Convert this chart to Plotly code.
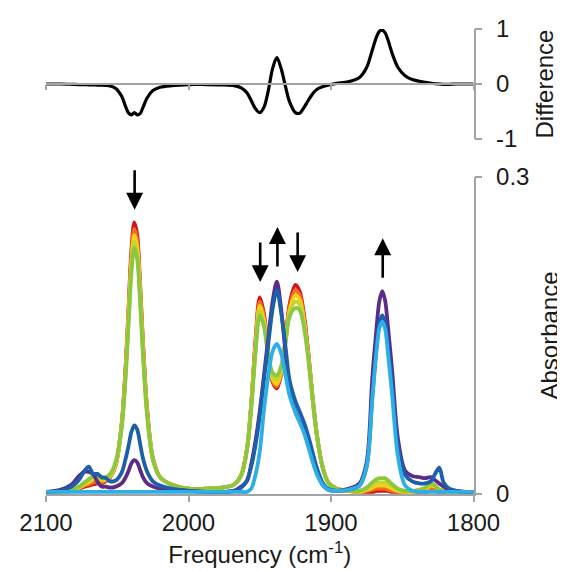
import plotly.graph_objects as go

# ---------------- data ----------------
freq = [2100, 2090, 2082, 2077, 2073, 2070, 2067, 2064, 2061, 2058,
        2055, 2051, 2047, 2044, 2042, 2040, 2038, 2036, 2034, 2032,
        2029, 2025, 2020, 2012, 2000, 1988, 1976, 1968, 1963, 1959,
        1956, 1953, 1950, 1947, 1944, 1941, 1938, 1935, 1932, 1929,
        1925, 1922, 1919, 1916, 1913, 1910, 1906, 1902, 1896, 1888,
        1880, 1875, 1871, 1868, 1866, 1864, 1862, 1860, 1857, 1853,
        1848, 1843, 1838, 1834, 1830, 1827, 1824, 1821, 1817, 1812,
        1806, 1800]

red = [0.002, 0.002, 0.003, 0.005, 0.007, 0.008, 0.009, 0.010, 0.010, 0.012,
       0.016, 0.028, 0.065, 0.124, 0.178, 0.232, 0.257, 0.245, 0.200, 0.145,
       0.080, 0.034, 0.016, 0.009, 0.005, 0.005, 0.006, 0.009, 0.018, 0.042,
       0.085, 0.145, 0.186, 0.170, 0.133, 0.106, 0.100, 0.113, 0.145, 0.180,
       0.198, 0.192, 0.170, 0.135, 0.093, 0.057, 0.026, 0.011, 0.005, 0.003,
       0.002, 0.002, 0.002, 0.003, 0.003, 0.003, 0.003, 0.003, 0.002, 0.002,
       0.002, 0.002, 0.002, 0.002, 0.003, 0.003, 0.002, 0.002, 0.002, 0.002,
       0.002, 0.002]

orange = [0.002, 0.002, 0.003, 0.005, 0.008, 0.009, 0.011, 0.012, 0.011, 0.013,
          0.016, 0.028, 0.064, 0.121, 0.174, 0.227, 0.251, 0.239, 0.196, 0.142,
          0.078, 0.033, 0.016, 0.009, 0.005, 0.005, 0.006, 0.009, 0.018, 0.042,
          0.084, 0.142, 0.182, 0.167, 0.132, 0.107, 0.102, 0.114, 0.144, 0.177,
          0.193, 0.188, 0.167, 0.133, 0.092, 0.057, 0.026, 0.011, 0.005, 0.003,
          0.002, 0.003, 0.004, 0.005, 0.005, 0.005, 0.005, 0.004, 0.003, 0.002,
          0.002, 0.002, 0.002, 0.003, 0.005, 0.004, 0.003, 0.002, 0.002, 0.002,
          0.002, 0.002]

yellow = [0.002, 0.002, 0.003, 0.006, 0.009, 0.011, 0.014, 0.016, 0.013, 0.014,
          0.017, 0.029, 0.063, 0.118, 0.170, 0.221, 0.245, 0.234, 0.192, 0.139,
          0.076, 0.033, 0.016, 0.009, 0.005, 0.005, 0.006, 0.009, 0.018, 0.042,
          0.083, 0.139, 0.178, 0.164, 0.131, 0.109, 0.104, 0.116, 0.143, 0.174,
          0.188, 0.184, 0.164, 0.131, 0.091, 0.056, 0.026, 0.011, 0.005, 0.003,
          0.002, 0.004, 0.006, 0.008, 0.008, 0.008, 0.008, 0.007, 0.005, 0.003,
          0.002, 0.002, 0.003, 0.004, 0.008, 0.007, 0.004, 0.003, 0.002, 0.002,
          0.002, 0.002]

yellowgreen = [0.002, 0.002, 0.003, 0.006, 0.010, 0.013, 0.016, 0.018, 0.014, 0.015,
               0.018, 0.030, 0.062, 0.116, 0.166, 0.216, 0.239, 0.228, 0.187, 0.136,
               0.075, 0.033, 0.016, 0.009, 0.005, 0.005, 0.006, 0.009, 0.018, 0.042,
               0.082, 0.136, 0.174, 0.161, 0.131, 0.112, 0.108, 0.118, 0.143, 0.171,
               0.182, 0.179, 0.161, 0.130, 0.091, 0.056, 0.026, 0.011, 0.005, 0.003,
               0.003, 0.005, 0.008, 0.011, 0.011, 0.011, 0.011, 0.010, 0.007, 0.004,
               0.003, 0.002, 0.003, 0.005, 0.009, 0.008, 0.004, 0.003, 0.002, 0.002,
               0.002, 0.002]

green = [0.002, 0.002, 0.004, 0.007, 0.011, 0.014, 0.017, 0.019, 0.015, 0.016,
         0.019, 0.031, 0.062, 0.113, 0.162, 0.211, 0.233, 0.222, 0.183, 0.133,
         0.074, 0.033, 0.016, 0.009, 0.005, 0.005, 0.006, 0.009, 0.018, 0.042,
         0.081, 0.133, 0.169, 0.158, 0.131, 0.115, 0.112, 0.121, 0.143, 0.168,
         0.176, 0.174, 0.158, 0.129, 0.091, 0.056, 0.026, 0.011, 0.005, 0.003,
         0.003, 0.006, 0.011, 0.014, 0.015, 0.015, 0.015, 0.013, 0.009, 0.005,
         0.003, 0.003, 0.004, 0.006, 0.010, 0.008, 0.004, 0.003, 0.002, 0.002,
         0.002, 0.002]

purple = [0.002, 0.004, 0.009, 0.017, 0.021, 0.021, 0.019, 0.012, 0.007, 0.007,
          0.006, 0.007, 0.010, 0.016, 0.022, 0.029, 0.032, 0.030, 0.023, 0.016,
          0.010, 0.007, 0.005, 0.004, 0.003, 0.002, 0.002, 0.003, 0.007, 0.012,
          0.028, 0.050, 0.078, 0.113, 0.148, 0.182, 0.201, 0.175, 0.135, 0.097,
          0.078, 0.069, 0.060, 0.047, 0.033, 0.020, 0.009, 0.004, 0.003, 0.005,
          0.010, 0.030, 0.110, 0.158, 0.183, 0.192, 0.183, 0.158, 0.115, 0.052,
          0.022, 0.017, 0.016, 0.015, 0.016, 0.013, 0.010, 0.007, 0.004, 0.003,
          0.002, 0.002]

darkblue = [0.002, 0.003, 0.007, 0.013, 0.022, 0.026, 0.019, 0.019, 0.016, 0.015,
            0.012, 0.013, 0.020, 0.034, 0.046, 0.059, 0.065, 0.061, 0.048, 0.034,
            0.021, 0.012, 0.008, 0.005, 0.003, 0.002, 0.002, 0.003, 0.006, 0.013,
            0.026, 0.046, 0.074, 0.108, 0.142, 0.175, 0.193, 0.172, 0.140, 0.107,
            0.088, 0.078, 0.068, 0.055, 0.040, 0.025, 0.011, 0.005, 0.003, 0.004,
            0.008, 0.026, 0.092, 0.140, 0.162, 0.169, 0.162, 0.140, 0.102, 0.045,
            0.018, 0.012, 0.010, 0.010, 0.012, 0.019, 0.025, 0.011, 0.005, 0.003,
            0.002, 0.002]

lightblue = [0.002, 0.002, 0.002, 0.002, 0.002, 0.002, 0.002, 0.002, 0.002, 0.002,
             0.002, 0.002, 0.002, 0.002, 0.002, 0.002, 0.002, 0.002, 0.002, 0.002,
             0.002, 0.002, 0.002, 0.002, 0.002, 0.002, 0.002, 0.002, 0.002, 0.002,
             0.005, 0.018, 0.040, 0.080, 0.112, 0.135, 0.142, 0.133, 0.113, 0.093,
             0.077, 0.068, 0.058, 0.045, 0.031, 0.019, 0.009, 0.004, 0.003, 0.004,
             0.008, 0.026, 0.090, 0.136, 0.157, 0.163, 0.156, 0.133, 0.092, 0.035,
             0.008, 0.003, 0.002, 0.002, 0.002, 0.002, 0.002, 0.002, 0.002, 0.002,
             0.002, 0.002]

difference = [0.00, 0.00, -0.005, -0.01, -0.01, -0.015, -0.015, -0.02, -0.02, -0.025,
              -0.035, -0.08, -0.22, -0.42, -0.53, -0.56, -0.52, -0.56, -0.54, -0.43,
              -0.25, -0.12, -0.06, -0.03, -0.01, -0.01, -0.015, -0.03, -0.07, -0.16,
              -0.30, -0.45, -0.52, -0.42, -0.12, 0.28, 0.48, 0.28, -0.04, -0.33,
              -0.52, -0.53, -0.43, -0.30, -0.18, -0.10, -0.05, -0.02, 0.01, 0.04,
              0.12, 0.30, 0.62, 0.86, 0.96, 0.98, 0.93, 0.80, 0.55, 0.30,
              0.15, 0.08, 0.05, 0.03, 0.015, 0.005, 0.0, -0.005, -0.005, 0.0,
              0.0, 0.0]

series_names = ["red", "orange", "yellow", "yellowgreen", "green",
                "purple", "darkblue", "lightblue"]
series_values = [red, orange, yellow, yellowgreen, green,
                 purple, darkblue, lightblue]
series_colors = ["#d4121b", "#f0701e", "#f5d215", "#c5d630", "#8dc63f",
                 "#5a2c8c", "#1d5fa9", "#2cafe6"]

x_ticks = [2100, 2000, 1900, 1800]
x_ticktext = ["2100", "2000", "1900", "1800"]
abs_ticks = [0, 0.3]
abs_ticktext = ["0", "0.3"]
diff_ticks = [-1, 0, 1]
diff_ticktext = ["-1", "0", "1"]

# arrows: frequency, tip absorbance, direction (+1 up, -1 down)
arrow_freq = [2037.8, 1949.7, 1937.6, 1923.4, 1863.7]
arrow_tip = [0.269, 0.2006, 0.2526, 0.210, 0.242]
arrow_dir = [-1, -1, 1, -1, 1]

# ---------------- layout geometry ----------------
W, H = 565, 571
x_dom = [38 / W, 465.5 / W]
abs_dom = [1 - 486 / H, 1 - 169 / H]
diff_dom = [1 - 131 / H, 1 - 21 / H]
diff_zero = 1 - 76 / H

FONT = "Liberation Sans, Arial, sans-serif"
TXT = "#1a1a1a"
AX = "#a3a3a3"

fig = go.Figure()
for name, vals, col in zip(series_names, series_values, series_colors):
    fig.add_trace(go.Scatter(
        x=freq, y=vals, mode="lines", name=name,
        line=dict(color=col, width=3.8, shape="spline", smoothing=0.9),
        xaxis="x", yaxis="y", showlegend=False, hoverinfo="skip"))

fig.add_trace(go.Scatter(
    x=freq, y=difference, mode="lines", name="difference",
    line=dict(color="black", width=3.2, shape="spline", smoothing=0.9),
    xaxis="x2", yaxis="y2", showlegend=False, hoverinfo="skip"))

annotations = []
for f, tip, d in zip(arrow_freq, arrow_tip, arrow_dir):
    annotations.append(dict(
        x=f, y=tip, xref="x", yref="y", ax=0, ay=41 * d, axref="pixel", ayref="pixel",
        showarrow=True, arrowhead=2, arrowwidth=2.6, arrowsize=1.3,
        arrowcolor="black", text=""))

tickfont = dict(family=FONT, size=24, color=TXT)

fig.update_layout(
    width=W, height=H,
    margin=dict(l=0, r=0, t=0, b=0, autoexpand=False),
    paper_bgcolor="white", plot_bgcolor="white",
    font=dict(family=FONT, size=24, color=TXT),
    annotations=annotations,
    xaxis=dict(domain=x_dom, range=[2100, 1800], anchor="y", automargin=False,
               tickvals=x_ticks, ticktext=x_ticktext, tickfont=tickfont,
               showline=True, linecolor=AX, linewidth=1.5,
               ticks="outside", ticklen=6, tickwidth=1.5, tickcolor=AX,
               showgrid=False, zeroline=False,
               title=dict(text="Frequency (cm<sup>-1</sup>)", font=tickfont, standoff=12)),
    yaxis=dict(domain=abs_dom, range=[0, 0.3], anchor="x", side="right", automargin=False,
               tickvals=abs_ticks, ticktext=abs_ticktext, tickfont=tickfont,
               ticklabelstandoff=9,
               showline=True, linecolor=AX, linewidth=1.5,
               ticks="outside", ticklen=7, tickwidth=1.5, tickcolor=AX,
               showgrid=False, zeroline=False,
               title=dict(text="Absorbance", font=tickfont, standoff=13)),
    xaxis2=dict(domain=x_dom, range=[2100, 1800], anchor="free", position=diff_zero,
                automargin=False,
                tickvals=x_ticks, showticklabels=False,
                showline=True, linecolor=AX, linewidth=1.5,
                ticks="outside", ticklen=5, tickwidth=1.5, tickcolor=AX,
                showgrid=False, zeroline=False),
    yaxis2=dict(domain=diff_dom, range=[-1, 1], anchor="x2", side="right", automargin=False,
                tickvals=diff_ticks, ticktext=diff_ticktext, tickfont=tickfont,
                ticklabelstandoff=9,
                showline=True, linecolor=AX, linewidth=1.5,
                ticks="outside", ticklen=7, tickwidth=1.5, tickcolor=AX,
                showgrid=False, zeroline=False,
                title=dict(text="Difference", font=tickfont, standoff=20)),
)

fig.write_html("out.html")
